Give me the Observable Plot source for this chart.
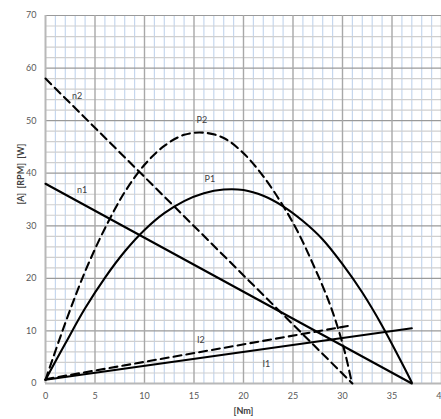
<!DOCTYPE html>
<html>
<head>
<meta charset="utf-8">
<script src="https://cdn.jsdelivr.net/npm/d3@7"></script>
<script src="https://cdn.jsdelivr.net/npm/@observablehq/plot@0.6"></script>
<style>
  html, body { margin: 0; padding: 0; background: #fff; }
</style>
</head>
<body>
<div id="chart"></div>
<script>
// ---- Data ----
const xTicks = [0, 5, 10, 15, 20, 25, 30, 35, 40];
const yTicks = [0, 10, 20, 30, 40, 50, 60, 70];

// Speed lines (straight): torque [Nm] -> RPM-scaled values
const n1Torque = [0, 37];
const n1Value  = [38, 0];
const n2Torque = [0, 31];
const n2Value  = [58, 0];

// Current lines (straight)
const i1Torque = [0, 37];
const i1Value  = [0.7, 10.5];
const i2Torque = [0, 31];
const i2Value  = [0.8, 11.1];

// Power curves
const p1Torque = [0, 2, 4, 6, 8, 10, 12, 14, 16, 18, 20, 22, 24, 26, 28, 30, 32, 34, 36, 37];
const p1Value  = [0.7, 7.6, 14.3, 20.1, 25.1, 29.2, 32.4, 34.7, 36.2, 36.9, 36.8, 35.7, 33.7, 30.9, 27.4, 22.7, 17.3, 11.0, 3.9, 0.2];
const p2Torque = [0, 2, 4, 6, 8, 10, 12, 14, 16, 18, 20, 22, 24, 25.5, 27, 28.5, 29.5, 30.3, 30.9];
const p2Value  = [0.7, 11.5, 21.3, 29.5, 36.4, 41.6, 45.2, 47.3, 47.7, 46.7, 43.8, 39.4, 33.8, 28.8, 22.8, 16.2, 10.8, 5.5, 0.5];

// Curve labels
const labelNames = ["n2", "n1", "P2", "P1", "I2", "I1"];
const labelX     = [3.2, 3.7, 15.8, 16.6, 15.7, 22.3];
const labelY     = [54.7, 36.8, 50.1, 38.9, 8.3, 3.7];

// ---- Build tables ----
const zip = (xs, ys) => xs.map((x, i) => ({x, y: ys[i]}));
const n1 = zip(n1Torque, n1Value), n2 = zip(n2Torque, n2Value);
const i1 = zip(i1Torque, i1Value), i2 = zip(i2Torque, i2Value);
const p1 = zip(p1Torque, p1Value), p2 = zip(p2Torque, p2Value);
const labels = labelNames.map((t, i) => ({t, x: labelX[i], y: labelY[i]}));

const xMinor = d3.range(0, 41, 1).filter(v => v % 5 !== 0);
const xMajor = d3.range(5, 41, 5);
const yMinor = d3.range(0, 71, 2).filter(v => v % 10 !== 0);
const yMajor = d3.range(10, 71, 10);

const solid = {stroke: "#000", strokeWidth: 2.1};
const dashed = {stroke: "#000", strokeWidth: 2.1, strokeDasharray: "8,5"};

const chart = Plot.plot({
  width: 441,
  height: 419,
  marginLeft: 45,
  marginRight: 0,
  marginTop: 15,
  marginBottom: 36,
  x: {domain: [0, 40]},
  y: {domain: [0, 70]},
  style: {fontFamily: "Lato, 'Open Sans', sans-serif", fontSize: "9px", color: "#595959", background: "#fff", overflow: "hidden"},
  marks: [
    Plot.ruleX(xMinor, {stroke: "#c6d7ee", strokeWidth: 1.2}),
    Plot.ruleY(yMinor, {stroke: "#cfcfcf", strokeWidth: 1.2}),
    Plot.ruleY(yMajor, {stroke: "#9a9a9a", strokeWidth: 1.2}),
    Plot.ruleX(xMajor, {stroke: "#a8a8a8", strokeWidth: 1.4}),
    Plot.ruleX([0], {stroke: "#b8b8b8", strokeWidth: 2}),
    Plot.ruleY([0], {stroke: "#b8b8b8", strokeWidth: 2}),
    Plot.axisX(xTicks, {tickSize: 0, tickPadding: 9, label: null, fill: "#595959"}),
    Plot.axisY(yTicks, {tickSize: 0, tickPadding: 9, label: null, fill: "#595959"}),
    Plot.line(n1, {x: "x", y: "y", ...solid}),
    Plot.line(n2, {x: "x", y: "y", ...dashed}),
    Plot.line(i1, {x: "x", y: "y", ...solid}),
    Plot.line(i2, {x: "x", y: "y", ...dashed}),
    Plot.line(p1, {x: "x", y: "y", curve: "catmull-rom", ...solid}),
    Plot.line(p2, {x: "x", y: "y", curve: "catmull-rom", ...dashed}),
    Plot.text(labels, {x: "x", y: "y", text: "t", fill: "#404040", fontSize: 9}),
    Plot.text(["[Nm]"], {frameAnchor: "bottom", lineAnchor: "middle", dy: 28, fontWeight: "bold", fill: "#404040"}),
    Plot.text(["[A]  [RPM]  [W]"], {frameAnchor: "left", lineAnchor: "middle", rotate: -90, dx: -24, dy: 5, fontWeight: "bold", fill: "#404040"})
  ]
});
document.getElementById("chart").appendChild(chart);
</script>
</body>
</html>
